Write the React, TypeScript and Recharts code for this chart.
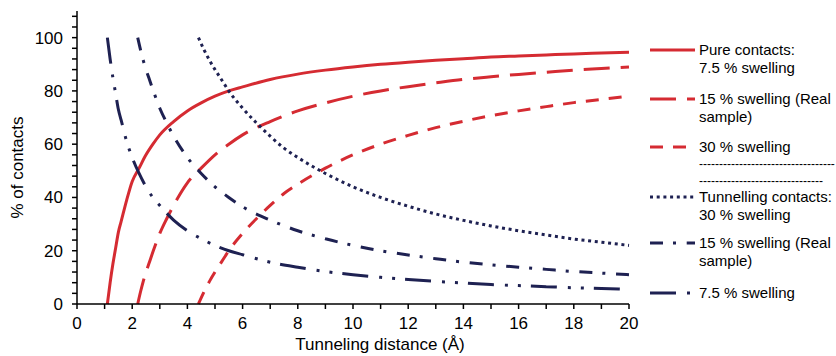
import React from 'react';
import { LineChart, Line, XAxis, YAxis } from 'recharts';

// values
const pure75X = [1.1, 1.2, 1.3, 1.4, 1.5, 1.6, 1.8, 2, 2.25, 2.5, 2.75, 3, 3.5, 4, 4.5, 5, 5.5, 6, 7, 8, 9, 10, 11, 12, 13, 14, 15, 16, 17, 18, 19, 20];
const pure75Y = [0, 8, 15, 21, 27, 31, 39, 46, 51, 56, 60, 63.5, 68.5, 72.5, 75.5, 78, 80, 81.5, 84.3, 86.3, 87.8, 89, 90, 90.8, 91.5, 92.1, 92.7, 93.1, 93.5, 93.9, 94.2, 94.5];

const pure15X = [2.2, 2.3, 2.4, 2.5, 2.6, 2.8, 3, 3.25, 3.5, 4, 4.5, 5, 5.5, 6, 7, 8, 9, 10, 11, 12, 13, 14, 15, 16, 17, 18, 19, 20];
const pure15Y = [0, 4.5, 8.5, 12, 15, 21, 26.5, 32, 37, 45.5, 51, 56, 60, 63.5, 68.5, 72.5, 75.5, 78, 80, 81.6, 83, 84.3, 85.3, 86.2, 87, 87.8, 88.4, 89];

const pure30X = [4.4, 4.6, 4.8, 5, 5.25, 5.5, 6, 6.5, 7, 7.5, 8, 9, 10, 11, 12, 13, 14, 15, 16, 17, 18, 19, 20];
const pure30Y = [0, 4.5, 8.5, 12, 16, 20, 26.5, 32, 37, 41.5, 45, 51, 56, 60, 63.3, 66.2, 68.6, 70.7, 72.5, 74.1, 75.6, 76.8, 78];

const tun30X = [4.4, 4.6, 4.8, 5, 5.25, 5.5, 6, 6.5, 7, 7.5, 8, 9, 10, 11, 12, 13, 14, 15, 16, 17, 18, 19, 20];
const tun30Y = [100, 95.5, 91.5, 88, 84, 80, 73.5, 68, 63, 58.5, 55, 49, 44, 40, 36.7, 33.8, 31.4, 29.3, 27.5, 25.9, 24.4, 23.2, 22];

const tun15X = [2.2, 2.3, 2.4, 2.5, 2.6, 2.8, 3, 3.25, 3.5, 4, 4.5, 5, 5.5, 6, 7, 8, 9, 10, 11, 12, 13, 14, 15, 16, 17, 18, 19, 20];
const tun15Y = [100, 95.5, 91.5, 88, 85, 79, 73.5, 68, 63, 55, 49, 44, 40, 36.5, 31.5, 27.5, 24.5, 22, 20, 18.4, 17, 15.7, 14.7, 13.8, 13, 12.2, 11.6, 11];

const tun75X = [1.1, 1.2, 1.3, 1.4, 1.5, 1.6, 1.8, 2, 2.25, 2.5, 2.75, 3, 3.5, 4, 4.5, 5, 5.5, 6, 7, 8, 9, 10, 11, 12, 13, 14, 15, 16, 17, 18, 19, 20];
const tun75Y = [100, 92, 85, 79, 73, 69, 61, 55, 49, 44, 40, 37, 31.5, 27.5, 24.5, 22, 20, 18.5, 15.7, 13.8, 12.2, 11, 10, 9.2, 8.5, 7.9, 7.3, 6.9, 6.5, 6.1, 5.8, 5.5];

const xTicks = [0, 1, 2, 3, 4, 5, 6, 7, 8, 9, 10, 11, 12, 13, 14, 15, 16, 17, 18, 19, 20];
const yTicks = [0, 4, 8, 12, 16, 20, 24, 28, 32, 36, 40, 44, 48, 52, 56, 60, 64, 68, 72, 76, 80, 84, 88, 92, 96, 100, 104, 108];

const RED = '#d52b32';
const NAVY = '#1e2152';
const FONT = '"Liberation Sans", Arial, sans-serif';

const toPoints = (xs: number[], ys: number[]) => xs.map((x, i) => ({ x, y: ys[i] }));

const series = [
  { key: 'pure75', data: toPoints(pure75X, pure75Y), color: RED, dash: undefined, label: ['Pure contacts:', '7.5 % swelling'] },
  { key: 'pure15', data: toPoints(pure15X, pure15Y), color: RED, dash: '26 11', label: ['15 % swelling (Real', 'sample)'] },
  { key: 'pure30', data: toPoints(pure30X, pure30Y), color: RED, dash: '13 10', label: ['30 % swelling'] },
  { key: 'tun30', data: toPoints(tun30X, tun30Y), color: NAVY, dash: '3 3.7', label: ['Tunnelling contacts:', '30 % swelling'] },
  { key: 'tun15', data: toPoints(tun15X, tun15Y), color: NAVY, dash: '13 10 3 10.7', label: ['15 % swelling (Real', 'sample)'] },
  { key: 'tun75', data: toPoints(tun75X, tun75Y), color: NAVY, dash: '26 11 3 10 3 10', label: ['7.5 % swelling'] },
];

const legendY = [50, 99, 147, 197, 243, 293];

const XTick = (props: any) => {
  const { x, y, payload } = props;
  if (payload.value % 2 !== 0) return <g />;
  return (
    <text x={x} y={y} dy="0.71em" textAnchor="middle" fontSize={17} fontFamily={FONT} fill="#000">
      {payload.value}
    </text>
  );
};

const YTick = (props: any) => {
  const { x, y, payload } = props;
  if (payload.value % 20 !== 0) return <g />;
  return (
    <text x={x} y={y} dy="0.355em" textAnchor="end" fontSize={17} fontFamily={FONT} fill="#000">
      {payload.value}
    </text>
  );
};

const ChartLegend = () => (
  <svg width={836} height={356} style={{ position: 'absolute', left: 0, top: 0, pointerEvents: 'none' }}>
    {series.map((s, i) => (
      <g key={s.key}>
        <line x1={650} x2={695} y1={legendY[i]} y2={legendY[i]} stroke={s.color} strokeWidth={3} strokeDasharray={s.dash} />
        {s.label.map((t, j) => (
          <text key={j} x={699} y={legendY[i] + j * 18} dy="0.355em" fontSize={15} fontFamily={FONT} fill="#000">
            {t}
          </text>
        ))}
      </g>
    ))}
    <text x={699} y={164} dy="0.355em" fontSize={12} fontFamily={FONT} fill="#000">{'-'.repeat(34)}</text>
    <text x={699} y={181} dy="0.355em" fontSize={12} fontFamily={FONT} fill="#000">{'-'.repeat(31)}</text>
  </svg>
);

export default function App() {
  return (
    <div style={{ position: 'absolute', left: 0, top: 0, width: 836, height: 356, background: '#fff' }}>
      <LineChart width={836} height={356} margin={{ top: 11, right: 207, bottom: 0, left: 17 }}>
        <XAxis
          type="number"
          dataKey="x"
          domain={[0, 20]}
          ticks={xTicks}
          interval={0}
          height={52}
          tickSize={5}
          tickMargin={8}
          tick={<XTick />}
          stroke="#000"
          strokeWidth={1.5}
          label={{ value: 'Tunneling distance (Å)', position: 'insideBottom', offset: 6, dx: 27, fontSize: 17, fontFamily: FONT, fill: '#000' }}
        />
        <YAxis
          type="number"
          dataKey="y"
          domain={[0, 110]}
          ticks={yTicks}
          interval={0}
          width={60}
          tickSize={5}
          tickMargin={9}
          tick={<YTick />}
          stroke="#000"
          strokeWidth={1.5}
          label={{ value: '% of contacts', angle: -90, position: 'center', dx: -30, dy: 10, fontSize: 17, fontFamily: FONT, fill: '#000' }}
        />
        {series.map(s => (
          <Line
            key={s.key}
            data={s.data}
            dataKey="y"
            type="monotone"
            stroke={s.color}
            strokeWidth={3}
            strokeDasharray={s.dash}
            dot={false}
            activeDot={false}
            isAnimationActive={false}
          />
        ))}
      </LineChart>
      <ChartLegend />
    </div>
  );
}
